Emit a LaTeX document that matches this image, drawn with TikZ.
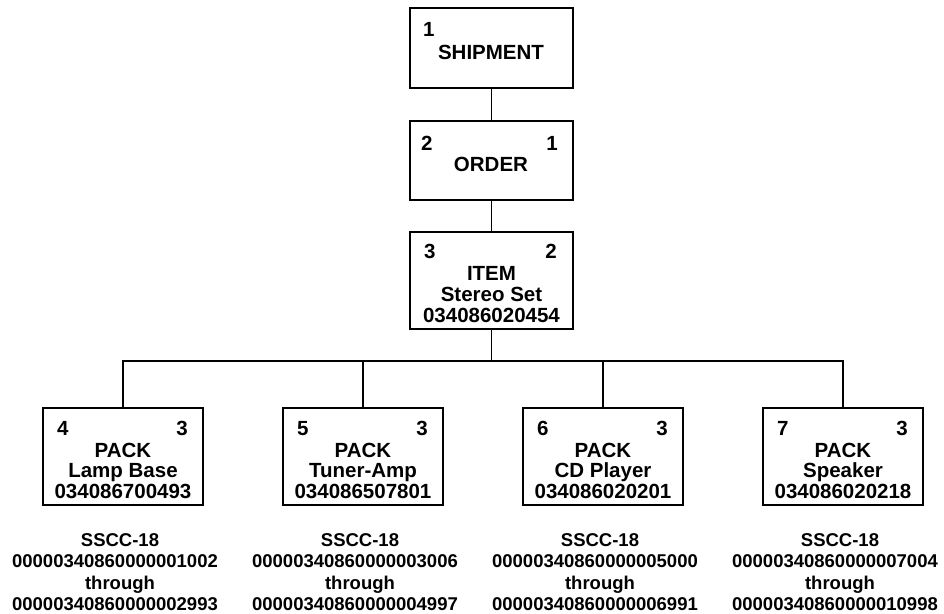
\documentclass[tikz,border=0pt]{standalone}
\usepackage{fontspec}
\setmainfont{Liberation Sans}
\begin{document}
\begin{tikzpicture}[x=1pt,y=-1pt,
  box/.style={draw,line width=1.6pt,inner sep=0pt,minimum width=160pt},
  txt/.style={inner sep=0pt,anchor=base,font=\fontsize{20.5}{21}\selectfont\bfseries},
  num/.style={inner sep=0pt,font=\fontsize{20.5}{21}\selectfont\bfseries},
  sscc/.style={inner sep=0pt,anchor=base,font=\fontsize{18.5}{21.5}\selectfont\bfseries},
  wire/.style={line width=1.6pt,line cap=rect}]
\useasboundingbox (0,0) rectangle (944,613);

% top boxes
\node[box,minimum width=163pt,minimum height=80pt] (ship) at (491.5,48) {};
\node[box,minimum width=163pt,minimum height=79pt] (order) at (491.5,160.5) {};
\node[box,minimum width=163pt,minimum height=97pt] (item) at (491.5,280.5) {};

\node[num,anchor=base west] (s1) at (423,36) {1};
\node[txt] (st) at (491,59) {SHIPMENT};

\node[num,anchor=base west] (o2) at (421,150) {2};
\node[num,anchor=base east] (o1) at (558,150) {1};
\node[txt] (ot) at (491,171) {ORDER};

\node[num,anchor=base west] (i3) at (424,258) {3};
\node[num,anchor=base east] (i2) at (557,258) {2};
\node[txt] (it1) at (491.5,280) {ITEM};
\node[txt] (it2) at (491.5,301) {Stereo Set};
\node[txt] (it3) at (491.5,322) {034086020454};

% packs
\foreach \n/\cx/\a/\nm/\code/\from/\to in {
  1/123/4/Lamp Base/034086700493/00000340860000001002/00000340860000002993,
  2/363/5/Tuner-Amp/034086507801/00000340860000003006/00000340860000004997,
  3/603/6/CD Player/034086020201/00000340860000005000/00000340860000006991,
  4/843/7/Speaker/034086020218/00000340860000007004/00000340860000010998}{
  \node[box,minimum height=97pt] (p\n) at (\cx,456.5) {};
  \node[num,anchor=base west] (pa\n) at (\cx-66,435) {\a};
  \node[num,anchor=base east] (pb\n) at (\cx+65,435) {3};
  \node[txt] (pt\n) at (\cx,457) {PACK};
  \node[txt] (pn\n) at (\cx,477.5) {\nm};
  \node[txt] (pc\n) at (\cx,498) {\code};
  \node[sscc] (sa\n) at (\cx-3,546) {SSCC-18};
  \node[sscc] (sb\n) at (\cx-8,567.5) {\from};
  \node[sscc] (sc\n) at (\cx-3,589) {through};
  \node[sscc] (sd\n) at (\cx-8,610) {\to};
}

% connectors
\coordinate (bus) at (491.5,361);
\draw[wire] (ship) -- (order);
\draw[wire] (order) -- (item);
\draw[wire] (item) -- (item |- bus);
\draw[wire] (p1.north |- bus) -- (p4.north |- bus);
\foreach \n in {1,2,3,4}{
  \draw[wire] (p\n.north |- bus) -- (p\n.north);
}
\end{tikzpicture}
\end{document}
